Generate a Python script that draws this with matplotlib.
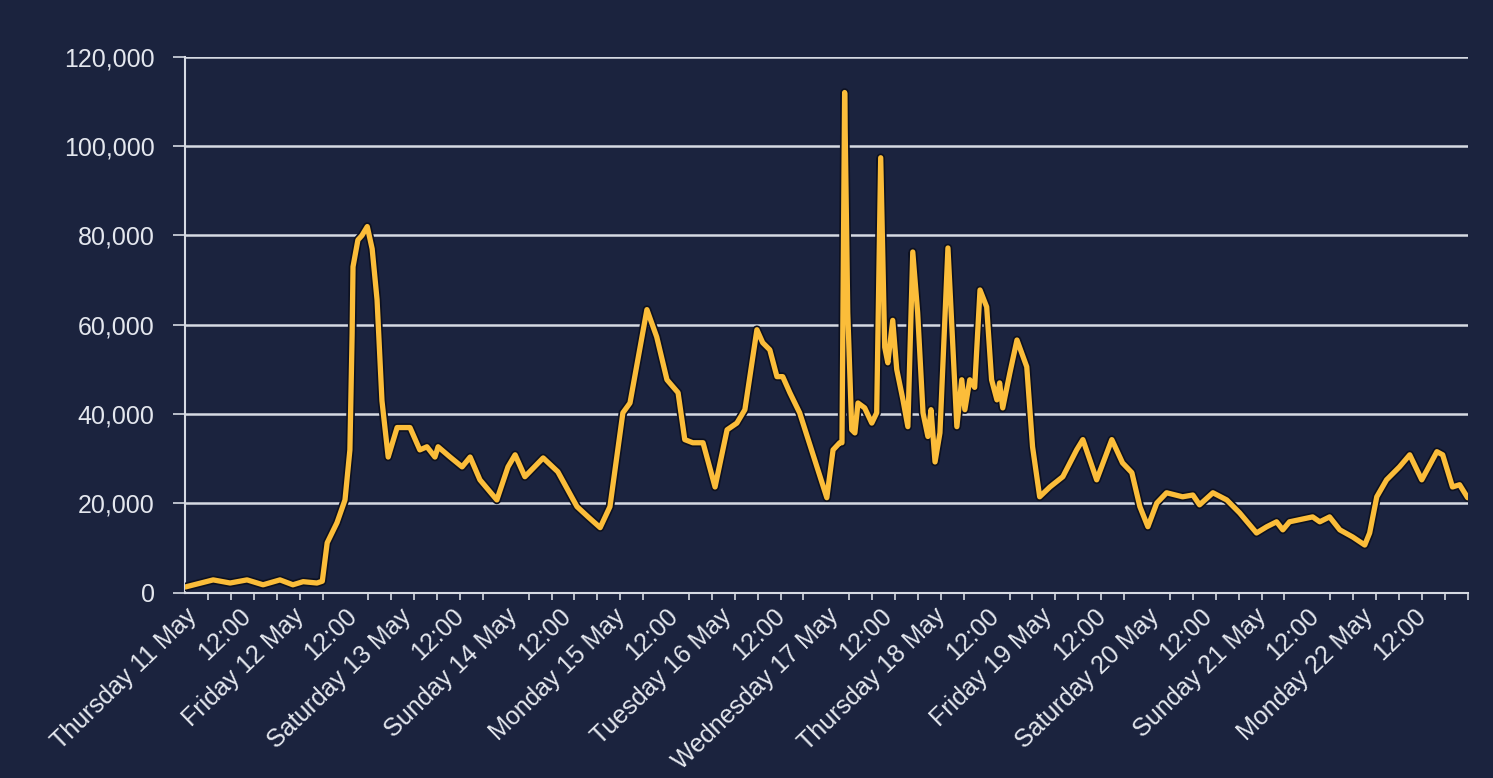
import numpy as np
import matplotlib
matplotlib.use("Agg")
import matplotlib.pyplot as plt
import matplotlib.patheffects as pe
from matplotlib.ticker import FuncFormatter, FixedLocator

hours = [0, 6.3, 10.1, 13.9, 17.5, 21.3, 24.2, 26.5, 29.6, 30.8, 31.9, 34.1, 35.9,
         37.0, 37.5, 37.7, 38.8, 39.7, 40.9, 42.0, 43.1, 44.2, 45.6, 47.6, 50.5,
         52.7, 54.3, 56.1, 56.8, 59.5, 62.2, 64.0, 66.2, 70.0, 72.5, 74.1, 76.3,
         80.4, 83.7, 88.0, 90.5, 93.2, 95.4, 98.3, 99.9, 103.7, 105.9, 108.2,
         110.7, 112.2, 114.0, 116.3, 119.0, 121.7, 123.9, 125.7, 128.4, 129.7,
         131.3, 132.9, 134.2, 135.8, 138.0, 144.1, 145.5, 147.0, 147.5, 148.1,
         148.8, 149.7, 150.4, 151.1, 152.6, 154.2, 155.3, 156.2, 157.1, 157.8,
         158.9, 159.8, 161.2, 162.3, 163.4, 164.5, 165.7, 166.8, 167.5, 168.4,
         169.5, 171.3, 172.4, 173.3, 174.4, 175.1, 176.2, 177.3, 178.5, 180.0,
         181.1, 182.3, 182.9, 183.6, 185.2, 186.8, 189.0, 190.3, 191.9, 194.2,
         197.1, 200.2, 201.6, 204.7, 208.1, 210.5, 212.6, 214.4, 216.2, 218.2,
         220.4, 224.0, 226.3, 227.8, 230.8, 233.9, 236.8, 240.6, 242.9, 245.1,
         246.5, 248.0, 253.2, 254.8, 257.0, 259.3, 262.2, 264.9, 266.0, 267.6,
         269.8, 272.7, 275.0, 277.7, 281.1, 282.4, 284.6, 286.2, 288.0]
visits = [1300, 2900, 2200, 2900, 1800, 2900, 1800, 2500, 2200, 2600, 11200, 15700, 20800,
          32000, 58000, 73000, 79000, 80000, 82000, 77000, 65600, 43000, 30400, 37000, 37000,
          32000, 32700, 30400, 32700, 30400, 28200, 30400, 25300, 20800, 28200, 30900, 26000,
          30200, 27100, 19300, 17000, 14600, 19300, 40300, 42500, 63400, 57300, 47700,
          44800, 34300, 33600, 33600, 23700, 36500, 38000, 41000, 58900, 56000,
          54400, 48400, 48400, 44800, 40300, 21300, 32000, 33600, 33600, 112000,
          62700, 36500, 35800, 42500, 41400, 38000, 40300, 97400, 55000, 51500,
          61000, 50000, 43200, 37200, 76300, 62700, 40300, 35000, 41000, 29300,
          35800, 77200, 55000, 37200, 47700, 41000, 47700, 46000, 67800, 64000,
          47700, 43200, 47000, 41400, 49200, 56600, 50600, 32700, 21500, 23700,
          26000, 32000, 34300, 25300, 34300, 29100, 26900, 19300, 14800, 20100,
          22400, 21500, 21900, 19700, 22400, 20800, 17900, 13400, 14800, 15900,
          14100, 15900, 17000, 15900, 17000, 14100, 12500, 10700, 13400, 21500,
          25300, 28200, 30900, 25300, 31600, 30900, 23700, 24200, 21300]

days = ["Thursday 11 May", "Friday 12 May", "Saturday 13 May", "Sunday 14 May",
        "Monday 15 May", "Tuesday 16 May", "Wednesday 17 May", "Thursday 18 May",
        "Friday 19 May", "Saturday 20 May", "Sunday 21 May", "Monday 22 May"]
tick_labels = []
for d in days:
    tick_labels += [d, "12:00"]
y_ticks = [0, 20000, 40000, 60000, 80000, 100000, 120000]

bg = "#1b233e"
fg = "#e4e7ee"
grid = "#d6dae3"

plt.rcParams["font.family"] = ["Liberation Sans", "DejaVu Sans"]

fig = plt.figure(figsize=(14.93, 7.78), dpi=100, facecolor=bg)
ax = fig.add_axes([0.124, 0.238, 0.859, 0.689])
ax.set_facecolor(bg)

ax.plot(hours, visits, color="#fbbd3a", linewidth=3.8, solid_joinstyle="round",
        solid_capstyle="round",
        path_effects=[pe.Stroke(linewidth=6.2, foreground="#0d1120"), pe.Normal()],
        zorder=3)

ax.set_xlim(0, 288)
ax.set_ylim(0, 120000)
ax.set_yticks(y_ticks)
ax.yaxis.set_major_formatter(FuncFormatter(lambda v, p: f"{int(v):,}"))
ax.yaxis.grid(True, color=grid, linewidth=1.8, zorder=1)

ax.set_xticks(np.arange(0, 288, 12))
ax.set_xticklabels(tick_labels, rotation=44, ha="right", va="top",
                   rotation_mode="anchor")
ax.xaxis.set_minor_locator(FixedLocator(np.linspace(0, 288, 57)))

for s in ["top", "right"]:
    ax.spines[s].set_visible(False)
for s in ["left", "bottom"]:
    ax.spines[s].set_color(grid)
    ax.spines[s].set_linewidth(1.5)

ax.tick_params(axis="y", colors=grid, labelcolor=fg, labelsize=18, length=9,
               width=1.2, pad=13)
ax.tick_params(axis="x", which="major", length=0, labelcolor=fg, labelsize=18, pad=8)
ax.tick_params(axis="x", which="minor", length=5, width=1.2, color=grid)

fig.savefig("out.png", dpi=100, facecolor=bg)
